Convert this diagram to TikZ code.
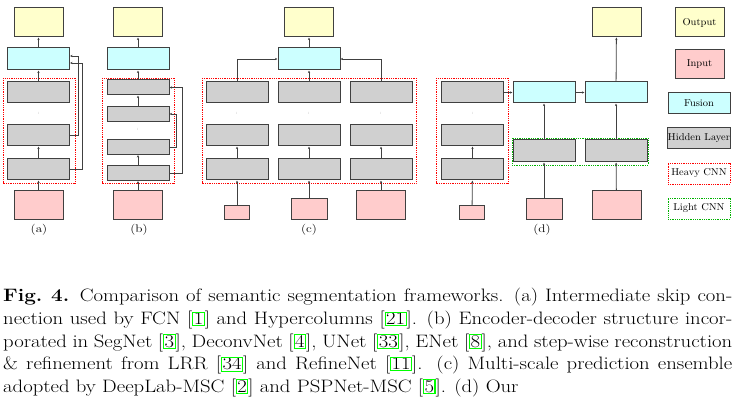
\documentclass[tikz,border=0pt]{standalone}
\usetikzlibrary{arrows.meta}
\definecolor{cout}{HTML}{FFFFCC}
\definecolor{cin}{HTML}{FFCCCC}
\definecolor{cfus}{HTML}{CCFFFF}
\definecolor{chid}{HTML}{D0D0D0}
\definecolor{edge}{HTML}{404040}
\definecolor{refg}{HTML}{00FF00}
\newcommand{\gref}[1]{{\color{refg}\fboxsep=0.3pt\fboxrule=1pt\fbox{\color{black}#1}}}
\newcommand{\capline}[1]{\scalebox{1.15}[1]{\makebox[634pt][s]{#1}}}
\newcommand{\sx}[1]{\scalebox{1.2}[1]{#1}}
\newcommand{\lx}[1]{\scalebox{1.05}[1]{#1}}
\begin{document}
\begin{tikzpicture}[x=1pt,y=-1pt,
 bx/.style={draw=edge,line width=1pt,inner sep=0pt},
 o/.style={bx,fill=cout,minimum width=49pt,minimum height=29pt},
 i/.style={bx,fill=cin,minimum width=49pt,minimum height=29pt},
 is/.style={bx,fill=cin,minimum width=25pt,minimum height=14pt},
 im/.style={bx,fill=cin,minimum width=36pt,minimum height=21pt},
 f/.style={bx,fill=cfus,minimum width=62pt,minimum height=22pt},
 h/.style={bx,fill=chid,minimum width=62pt,minimum height=21pt},
 hb/.style={bx,fill=chid,minimum width=62pt,minimum height=15pt},
 dt/.style={font=\tiny,text=gray,inner sep=0pt},
 ar/.style={draw=edge,line width=0.8pt,-{Stealth[length=2.5pt,width=2.2pt]}},
 heavy/.style={draw=red,densely dotted,line width=0.8pt},
 light/.style={draw=green!70!black,densely dotted,line width=0.8pt},
 lab/.style={font=\fontsize{11}{13}\selectfont,inner sep=0pt},
 leg/.style={font=\fontsize{10}{12}\selectfont}]
\useasboundingbox (0,0) rectangle (737,411);
% (a)
\node[o] (ao) at (38.5,22.5) {};
\node[f] (af) at (38.5,59) {};
\node[h] (ah1) at (38.5,92.5) {};
\node[dt] at (38.5,113) {:};
\node[h] (ah2) at (38.5,135.5) {};
\node[h] (ah3) at (38.5,169.5) {};
\node[i] (ai) at (38.5,205.5) {};
\draw[heavy] (3,78) rectangle (75,183);
\draw[ar] (ai) -- (ah3); \draw[ar] (ah3) -- (ah2); \draw[ar] (ah1) -- (af); \draw[ar] (af) -- (ao);
\draw[ar] (ah3.east) -- ++(12,0) |- ([yshift=-4pt]af.east);
\draw[ar] (ah2.east) -- ++(8,0) |- ([yshift=3pt]af.east);
\node[lab] at (39,230) {\sx{(a)}};
% (b)
\node[o] (bo) at (138,22.5) {};
\node[f] (bf) at (138,59) {};
\node[hb] (b1) at (138,87.5) {};
\node[hb] (b2) at (138,114) {};
\node[dt] at (138,129) {:};
\node[hb] (b3) at (138,147) {};
\node[hb] (b4) at (138,173) {};
\node[i] (bi) at (138,205.5) {};
\draw[heavy] (102,78) rectangle (174,183);
\draw[ar] (bi) -- (b4); \draw[ar] (b4) -- (b3); \draw[ar] (b2) -- (b1); \draw[ar] (b1) -- (bf); \draw[ar] (bf) -- (bo);
\draw[ar] (b4.east) -- ++(13,0) |- (b1.east);
\draw[ar] (b3.east) -- ++(7,0) |- (b2.east);
\node[lab] at (139,230) {\sx{(b)}};
% (c)
\node[o] (co) at (309,22.5) {};
\node[f] (cf) at (309,59) {};
\foreach \n/\x in {1/237,2/309,3/381}{
 \node[h] (c\n a) at (\x,92.5) {};
 \node[dt] at (\x,113) {:};
 \node[h] (c\n b) at (\x,135.5) {};
 \node[h] (c\n c) at (\x,169.5) {};
 \draw[ar] (c\n c) -- (c\n b);}
\node[is] (ci1) at (237,213) {};
\node[im] (ci2) at (309,209.5) {};
\node[i] (ci3) at (381,205.5) {};
\draw[heavy] (202,78) rectangle (416,183);
\foreach \n in {1,2,3}{\draw[ar] (ci\n) -- (c\n c);}
\draw[ar] (c1a.north) |- (cf.west);
\draw[ar] (c3a.north) |- (cf.east);
\draw[ar] (c2a) -- (cf); \draw[ar] (cf) -- (co);
\node[lab] at (309,230) {\sx{(c)}};
% (d)
\node[h] (d1) at (472.5,92.5) {};
\node[dt] at (472.5,113) {:};
\node[h] (d2) at (472.5,135.5) {};
\node[h] (d3) at (472.5,169.5) {};
\node[is] (di1) at (472,213) {};
\draw[heavy] (436,78) rectangle (508,183);
\draw[ar] (di1) -- (d3); \draw[ar] (d3) -- (d2);
\node[f,minimum height=21pt] (df1) at (544,92.5) {};
\node[f,minimum height=21pt] (df2) at (616,92.5) {};
\node[o] (do) at (616.5,22.5) {};
\node[h,minimum height=22pt] (dl1) at (544,151) {};
\node[h,minimum height=22pt] (dl2) at (616,151) {};
\draw[light] (512,138) rectangle (648,165);
\node[im] (di2) at (544,209.5) {};
\node[i] (di3) at (616.5,205.5) {};
\draw[ar] (d1) -- (df1); \draw[ar] (df1) -- (df2); \draw[ar] (df2) -- (do);
\draw[ar] (dl1) -- (df1); \draw[ar] (dl2) -- (df2);
\draw[ar] (di2) -- (dl1); \draw[ar] (di3) -- (dl2);
\node[lab] at (542,230) {\sx{(d)}};
% legend
\node[o,leg] (lo) at (699.5,22.5) {\lx{Output}};
\node[i,leg] (li) at (699.5,64.5) {\lx{Input}};
\node[f,leg,minimum height=21pt] (lf) at (699,103.5) {\lx{Fusion}};
\node[h,leg] (lh) at (699,138.5) {\lx{Hidden Layer}};
\node[leg,draw=red,densely dotted,line width=0.8pt,minimum width=62pt,minimum height=21pt,inner sep=0pt] (lhc) at (699,173.5) {\lx{Heavy CNN}};
\node[leg,draw=green!70!black,densely dotted,line width=0.8pt,minimum width=62pt,minimum height=21pt,inner sep=0pt] (llc) at (699,208.5) {\lx{Light CNN}};
% caption
\begin{scope}[every node/.style={anchor=base west,inner sep=0pt,font=\fontsize{18}{22}\selectfont}]
\node at (3,302) {\capline{\textbf{Fig.\ 4.} Comparison of semantic segmentation frameworks. (a) Intermediate skip con-}};
\node at (3,325) {\capline{nection used by FCN [\gref{1}] and Hypercolumns [\gref{21}]. (b) Encoder-decoder structure incor-}};
\node at (3,347.5) {\capline{porated in SegNet [\gref{3}], DeconvNet [\gref{4}], UNet [\gref{33}], ENet [\gref{8}], and step-wise reconstruction}};
\node at (3,370) {\capline{\& refinement from LRR [\gref{34}] and RefineNet [\gref{11}]. (c) Multi-scale prediction ensemble}};
\node at (3,392.5) {\scalebox{1.15}[1]{adopted by DeepLab-MSC [\gref{2}] and PSPNet-MSC [\gref{5}]. (d) Our}};
\end{scope}
\end{tikzpicture}
\end{document}
